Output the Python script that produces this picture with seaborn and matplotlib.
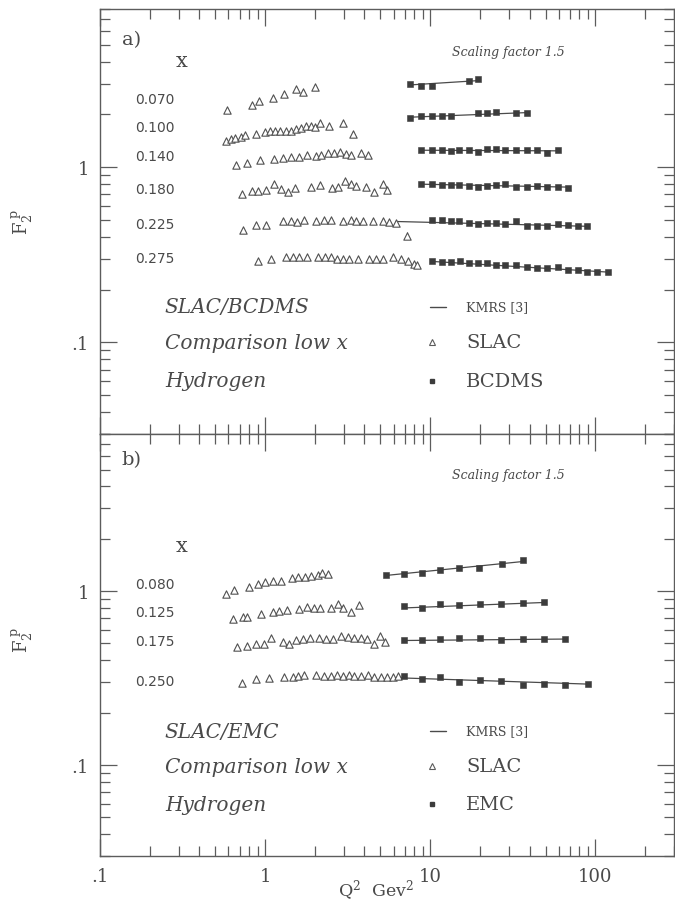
import pandas as pd
import seaborn as sns
import matplotlib.pyplot as plt
from matplotlib.ticker import LogLocator, FuncFormatter, NullFormatter

# x values labelling each row of points
rows_a = ["0.070", "0.100", "0.140", "0.180", "0.225", "0.275"]
rows_b = ["0.080", "0.125", "0.175", "0.250"]

# panel a) SLAC (open triangles)
slac_a_q2 = [
    [0.59, 0.83, 0.92, 1.12, 1.30, 1.54, 1.69, 2.02],
    [0.58, 0.62, 0.66, 0.71, 0.76, 0.88, 1.00, 1.07, 1.15, 1.23, 1.33, 1.44, 1.54, 1.65, 1.77, 1.90, 2.00, 2.16,
     2.43, 2.96, 3.41],
    [0.67, 0.78, 0.93, 1.13, 1.28, 1.44, 1.60, 1.80, 2.04, 2.17, 2.39, 2.60, 2.86, 3.10, 3.33, 3.82, 4.19],
    [0.72, 0.83, 0.90, 1.01, 1.13, 1.25, 1.38, 1.51, 1.90, 2.16, 2.56, 2.75, 3.06, 3.32, 3.56, 4.08, 4.59, 5.15, 5.50],
    [0.73, 0.88, 1.01, 1.29, 1.43, 1.56, 1.73, 2.03, 2.27, 2.50, 2.96, 3.33, 3.56, 3.90, 4.49, 5.19, 5.67, 6.22, 7.27],
    [0.91, 1.09, 1.34, 1.47, 1.60, 1.80, 2.08, 2.31, 2.50, 2.73, 2.96, 3.21, 3.65, 4.29, 4.70, 5.16, 5.98, 6.66,
     7.32, 8.0, 8.3],
]
slac_a_f2 = [
    [2.13, 2.27, 2.40, 2.49, 2.62, 2.78, 2.70, 2.87],
    [1.42, 1.44, 1.47, 1.49, 1.52, 1.54, 1.58, 1.60, 1.61, 1.61, 1.61, 1.62, 1.65, 1.68, 1.71, 1.71, 1.70, 1.79,
     1.73, 1.78, 1.55],
    [1.03, 1.06, 1.10, 1.12, 1.13, 1.14, 1.15, 1.17, 1.16, 1.18, 1.21, 1.21, 1.22, 1.19, 1.17, 1.20, 1.18],
    [0.70, 0.73, 0.73, 0.74, 0.80, 0.75, 0.72, 0.76, 0.77, 0.79, 0.76, 0.77, 0.83, 0.80, 0.78, 0.77, 0.72, 0.80, 0.74],
    [0.44, 0.465, 0.465, 0.49, 0.495, 0.484, 0.497, 0.493, 0.497, 0.50, 0.493, 0.50, 0.493, 0.493, 0.493, 0.49,
     0.486, 0.478, 0.407],
    [0.292, 0.299, 0.306, 0.306, 0.306, 0.306, 0.309, 0.306, 0.306, 0.30, 0.30, 0.299, 0.299, 0.299, 0.299, 0.299,
     0.306, 0.299, 0.29, 0.28, 0.275],
]

# panel a) BCDMS (filled squares)
bcdms_q2 = [
    [7.6, 8.8, 10.2, 17.3, 19.4],
    [7.6, 8.8, 10.2, 11.8, 13.4, 19.4, 22.0, 25.1, 33.0, 38.6],
    [8.8, 10.2, 11.8, 13.4, 15.0, 17.3, 19.4, 22.0, 25.1, 28.6, 33.0, 38.6, 44.3, 51.3, 59.5],
    [8.8, 10.2, 11.8, 13.4, 15.0, 17.3, 19.4, 22.0, 25.1, 28.6, 33.0, 38.6, 44.3, 51.3, 59.5, 68.4],
    [10.2, 11.8, 13.4, 15.0, 17.3, 19.4, 22.0, 25.1, 28.6, 33.0, 38.6, 44.3, 51.3, 59.5, 68.4, 78.5, 89.5],
    [10.2, 11.8, 13.4, 15.2, 17.3, 19.4, 22.0, 25.1, 28.6, 33.0, 38.6, 44.3, 51.3, 59.5, 68.4, 78.5, 89.5, 102, 119],
]
bcdms_f2 = [
    [3.0, 2.9, 2.9, 3.1, 3.17],
    [1.92, 1.95, 1.95, 1.96, 1.95, 2.03, 2.03, 2.06, 2.05, 2.05],
    [1.25, 1.25, 1.25, 1.23, 1.25, 1.25, 1.22, 1.27, 1.27, 1.26, 1.25, 1.25, 1.25, 1.21, 1.26],
    [0.80, 0.80, 0.795, 0.793, 0.789, 0.78, 0.775, 0.78, 0.789, 0.80, 0.775, 0.775, 0.78, 0.77, 0.77, 0.764],
    [0.497, 0.497, 0.493, 0.49, 0.478, 0.475, 0.478, 0.478, 0.475, 0.49, 0.464, 0.464, 0.464, 0.472, 0.468, 0.46,
     0.46],
    [0.292, 0.288, 0.288, 0.292, 0.285, 0.283, 0.285, 0.276, 0.276, 0.276, 0.27, 0.266, 0.266, 0.27, 0.26, 0.26,
     0.252, 0.252, 0.252],
]

# error bars on a few SLAC points of panel a): q2, low, high
bars_a_q2 = [3.41, 7.27, 8.3]
bars_a_lo = [1.50, 0.39, 0.265]
bars_a_hi = [1.61, 0.425, 0.285]

# KMRS [3] curves, panel a)
kmrs_a_q2 = [[7.6, 19.4], [7.6, 38.6], [8.8, 59.5], [8.8, 68.4], [6.2, 89.5], [10.2, 119]]
kmrs_a_f2 = [[2.95, 3.12], [1.93, 2.05], [1.25, 1.24], [0.80, 0.77], [0.49, 0.46], [0.29, 0.252]]

# panel b) SLAC
slac_b_q2 = [
    [0.58, 0.65, 0.80, 0.90, 1.0, 1.11, 1.25, 1.45, 1.59, 1.75, 1.90, 2.08, 2.21, 2.42],
    [0.64, 0.73, 0.78, 0.94, 1.11, 1.21, 1.36, 1.60, 1.80, 1.98, 2.16, 2.50, 2.78, 2.96, 3.30, 3.70],
    [0.68, 0.78, 0.88, 0.99, 1.09, 1.29, 1.40, 1.54, 1.69, 1.86, 2.13, 2.34, 2.57, 2.89, 3.17, 3.48, 3.82, 4.17,
     4.56, 5.0, 5.3],
    [0.72, 0.88, 1.06, 1.30, 1.47, 1.58, 1.73, 2.03, 2.27, 2.50, 2.73, 2.96, 3.24, 3.48, 3.82, 4.22, 4.59, 5.05,
     5.48, 5.92, 6.35],
]
slac_b_f2 = [
    [0.962, 1.01, 1.06, 1.10, 1.13, 1.14, 1.15, 1.19, 1.20, 1.21, 1.22, 1.23, 1.27, 1.26],
    [0.691, 0.71, 0.713, 0.74, 0.76, 0.765, 0.78, 0.789, 0.81, 0.795, 0.795, 0.80, 0.843, 0.795, 0.76, 0.83],
    [0.478, 0.486, 0.497, 0.497, 0.535, 0.51, 0.497, 0.52, 0.527, 0.535, 0.54, 0.531, 0.527, 0.555, 0.548, 0.535,
     0.535, 0.531, 0.497, 0.555, 0.51],
    [0.296, 0.313, 0.316, 0.32, 0.32, 0.325, 0.33, 0.33, 0.325, 0.325, 0.33, 0.325, 0.33, 0.325, 0.325, 0.33,
     0.32, 0.32, 0.32, 0.32, 0.325],
]

# panel b) EMC
emc_q2 = [
    [5.4, 6.9, 8.9, 11.4, 14.9, 19.9, 27.4, 36.6],
    [6.9, 8.9, 11.4, 14.9, 20.0, 27.0, 36.6, 48.9],
    [6.9, 8.9, 11.4, 14.9, 20.0, 27.0, 36.6, 48.9, 65.9],
    [6.9, 8.9, 11.4, 14.9, 20.0, 27.0, 36.6, 48.9, 65.9, 90.1],
]
emc_f2 = [
    [1.23, 1.26, 1.27, 1.32, 1.35, 1.35, 1.44, 1.50],
    [0.82, 0.80, 0.843, 0.83, 0.843, 0.843, 0.85, 0.86],
    [0.52, 0.52, 0.531, 0.535, 0.535, 0.52, 0.527, 0.527, 0.527],
    [0.325, 0.313, 0.32, 0.30, 0.31, 0.306, 0.29, 0.292, 0.29, 0.292],
]

# KMRS [3] curves, panel b)
kmrs_b_q2 = [[5.4, 36.6], [6.9, 48.9], [6.9, 65.9], [6.0, 90.1]]
kmrs_b_f2 = [[1.23, 1.48], [0.80, 0.86], [0.52, 0.53], [0.318, 0.292]]

INK = "#4a4a4a"
LIGHT = "#5c5c5c"


def to_frame(rows, q2s, f2s):
    parts = []
    for row, q, f in zip(rows, q2s, f2s):
        parts.append(pd.DataFrame({"row": row, "q2": q, "f2": f}))
    return pd.concat(parts, ignore_index=True)


def style_axes(ax, bottom_labels):
    ax.set_xscale("log")
    ax.set_yscale("log")
    ax.set_xlim(0.1, 300)
    ax.set_ylim(0.03, 8)
    for loc_axis in (ax.xaxis, ax.yaxis):
        loc_axis.set_major_locator(LogLocator(base=10))
        loc_axis.set_minor_locator(LogLocator(base=10, subs=range(2, 10)))
        loc_axis.set_minor_formatter(NullFormatter())
    ylab = {1.0: "1", 0.1: ".1"}
    ax.yaxis.set_major_formatter(FuncFormatter(lambda v, p: ylab.get(round(v, 6), "")))
    if bottom_labels:
        xlab = {0.1: ".1", 1.0: "1", 10.0: "10", 100.0: "100"}
        ax.xaxis.set_major_formatter(FuncFormatter(lambda v, p: xlab.get(round(v, 6), "")))
    else:
        ax.xaxis.set_major_formatter(NullFormatter())
    ax.tick_params(which="both", direction="in", top=True, right=True, colors=LIGHT, width=0.9,
                   labelcolor=INK, labelsize=13)
    ax.tick_params(which="major", length=12, pad=8)
    ax.tick_params(which="minor", length=7)
    for s in ax.spines.values():
        s.set_color(LIGHT)
        s.set_linewidth(1.0)
    ax.set_xlabel("")
    ax.set_ylabel("")


def draw_panel(ax, rows, row_y, slac, other, kmrs, tag, head_y, title, other_name, text_y, sq_size):
    slac_df = to_frame(rows, *slac)
    other_df = to_frame(rows, *other)
    kmrs_df = to_frame(rows, *kmrs)

    sns.lineplot(data=kmrs_df, x="q2", y="f2", units="row", estimator=None, sort=False,
                 color=INK, lw=0.9, ax=ax, zorder=2)
    sns.scatterplot(data=slac_df, x="q2", y="f2", marker="^", s=28, color="white",
                    edgecolor="#505050", linewidth=0.8, ax=ax, legend=False, zorder=3)
    sns.scatterplot(data=other_df, x="q2", y="f2", marker="s", s=sq_size, color="#3c3c3c",
                    edgecolor="#3c3c3c", linewidth=0.4, ax=ax, legend=False, zorder=3)

    tr = ax.transAxes
    ax.text(0.038, tag[1], tag[0], transform=tr, fontsize=14, color=INK, va="center")
    ax.text(0.143, head_y, "x", transform=tr, fontsize=15, color=INK, va="center", ha="center")
    for lab, y in zip(rows, row_y):
        ax.text(0.061, y, lab, transform=tr, fontsize=10, color=INK, va="center",
                family="DejaVu Sans")
    ax.text(0.711, tag[2], "Scaling factor 1.5", transform=tr, fontsize=9, style="italic",
            color=INK, ha="center", va="center")

    for txt, y in zip([title, "Comparison low x", "Hydrogen"], text_y):
        ax.text(0.113, y, txt, transform=tr, fontsize=14.5, style="italic", color=INK, va="center")
    ax.plot([0.575, 0.603], [text_y[0], text_y[0]], transform=tr, color=INK, lw=1.0)
    ax.plot([0.579], [text_y[1]], transform=tr, marker="^", ms=4, mfc="white", mec=LIGHT, mew=0.8)
    ax.plot([0.579], [text_y[2]], transform=tr, marker="s", ms=3.5, mfc="#3c3c3c", mec="#3c3c3c")
    ax.text(0.638, text_y[0], "KMRS [3]", transform=tr, fontsize=9, color=INK, va="center")
    ax.text(0.638, text_y[1], "SLAC", transform=tr, fontsize=14, color=INK, va="center")
    ax.text(0.638, text_y[2], other_name, transform=tr, fontsize=14, color=INK, va="center")


sns.set_style("ticks")
plt.rcParams["font.family"] = ["DejaVu Serif"]
plt.rcParams["mathtext.fontset"] = "dejavuserif"

fig = plt.figure(figsize=(6.75, 9.04), dpi=100)
ax_a = fig.add_axes([100 / 675, 1 - 435 / 904, 574 / 675, 425 / 904])
ax_b = fig.add_axes([100 / 675, 1 - 857 / 904, 574 / 675, 422 / 904])
ax_a.set_xscale("log")
ax_a.set_yscale("log")
ax_b.set_xscale("log")
ax_b.set_yscale("log")

draw_panel(ax_a, rows_a, [0.788, 0.722, 0.654, 0.576, 0.494, 0.414],
           (slac_a_q2, slac_a_f2), (bcdms_q2, bcdms_f2), (kmrs_a_q2, kmrs_a_f2),
           ("a)", 0.929, 0.899), 0.878, "SLAC/BCDMS", "BCDMS", [0.299, 0.216, 0.125], 19)
ax_a.vlines(bars_a_q2, bars_a_lo, bars_a_hi, color=LIGHT, lw=0.8, zorder=2)

draw_panel(ax_b, rows_b, [0.645, 0.578, 0.509, 0.415],
           (slac_b_q2, slac_b_f2), (emc_q2, emc_f2), (kmrs_b_q2, kmrs_b_f2),
           ("b)", 0.941, 0.905), 0.735, "SLAC/EMC", "EMC", [0.296, 0.213, 0.123], 22)

style_axes(ax_a, bottom_labels=False)
style_axes(ax_b, bottom_labels=True)

ylabel = r"$\mathrm{F_2^{\ p}}$"
fig.text(0.033, 1 - 222 / 904, ylabel, rotation=90, fontsize=13, color=INK, ha="center", va="center")
fig.text(0.033, 1 - 640 / 904, ylabel, rotation=90, fontsize=13, color=INK, ha="center", va="center")
fig.text(376 / 675, 13 / 904, r"Q$^2$  Gev$^2$", fontsize=12.5, color=INK, ha="center", va="center")

fig.savefig("out.png", dpi=100)
